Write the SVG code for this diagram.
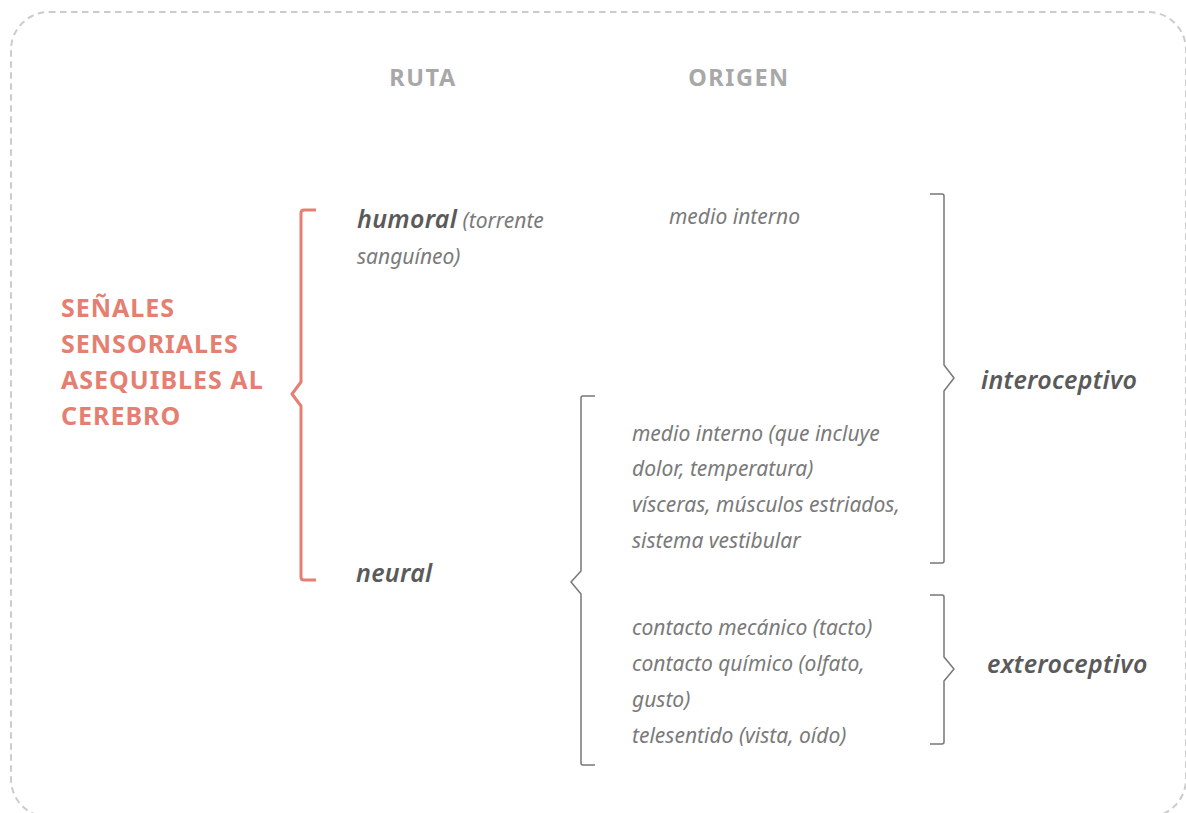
<svg xmlns="http://www.w3.org/2000/svg" width="1186" height="813" viewBox="0 0 1186 813">
<style>
.hdr{font-family:"Noto Sans","Liberation Sans",sans-serif;font-weight:700;font-size:23.5px;letter-spacing:1.5px;fill:#a8a8a8}
.title{font-family:"Noto Sans","Liberation Sans",sans-serif;font-weight:700;font-size:25px;letter-spacing:1px;fill:#e47f72}
.main{font-family:"Noto Sans","Liberation Sans",sans-serif;font-style:italic;font-weight:600;font-size:25px;letter-spacing:0.3px;fill:#5a5a5a}
.sub{font-family:"Noto Sans","Liberation Sans",sans-serif;font-style:italic;font-weight:400;font-size:21px;letter-spacing:0;fill:#7a7a7a}
.brace{fill:none;stroke:#777;stroke-width:1.5;stroke-linejoin:round}
.rbrace{fill:none;stroke:#e47f72;stroke-width:3;stroke-linejoin:round}
</style>
<rect x="11" y="12" width="1175" height="805" rx="38" fill="none" stroke="#cccccc" stroke-width="2" stroke-dasharray="6.5 4.5"/>
<g id="headers">
<text class="hdr" x="423" y="86" text-anchor="middle">RUTA</text>
<text class="hdr" x="739" y="86" text-anchor="middle">ORIGEN</text>
</g>
<g id="senales">
<text class="title" x="61" y="317">SEÑALES</text>
<text class="title" x="61" y="353">SENSORIALES</text>
<text class="title" x="61" y="389">ASEQUIBLES AL</text>
<text class="title" x="61" y="425">CEREBRO</text>
</g>
<g id="humoral">
<text x="357" y="228"><tspan class="main">humoral</tspan><tspan class="sub"> (torrente</tspan></text>
<text class="sub" x="357" y="264">sanguíneo)</text>
</g>
<g id="neural">
<text class="main" x="356" y="582">neural</text>
</g>
<g id="medio-interno">
<text class="sub" x="669" y="224">medio interno</text>
</g>
<g id="neural-interno">
<text class="sub" x="632" y="441">medio interno (que incluye</text>
<text class="sub" x="632" y="476">dolor, temperatura)</text>
<text class="sub" x="632" y="512">vísceras, músculos estriados,</text>
<text class="sub" x="632" y="548">sistema vestibular</text>
</g>
<g id="neural-externo">
<text class="sub" x="632" y="635">contacto mecánico (tacto)</text>
<text class="sub" x="632" y="671">contacto químico (olfato,</text>
<text class="sub" x="632" y="707">gusto)</text>
<text class="sub" x="632" y="743">telesentido (vista, oído)</text>
</g>
<g id="interoceptivo">
<text class="main" x="981" y="389">interoceptivo</text>
</g>
<g id="exteroceptivo">
<text class="main" x="987" y="673" font-weight="500">exteroceptivo</text>
</g>
<g id="connectors">
<path class="rbrace" d="M316 210 H304 Q301 210 301 213 V382 L292 394 L301 406 V577 Q301 580 304 580 H316"/>
<path class="brace" d="M595 396 H583 Q581 396 581 398 V571 L571 582 L581 594 V763 Q581 765 583 765 H595"/>
<path class="brace" d="M930 194 H942 Q944 194 944 196 V365 L954 378 L944 391 V561 Q944 563 942 563 H930"/>
<path class="brace" d="M930 595 H942 Q944 595 944 597 V657 L954 669 L944 681 V742 Q944 744 942 744 H930"/>
</g>
</svg>
